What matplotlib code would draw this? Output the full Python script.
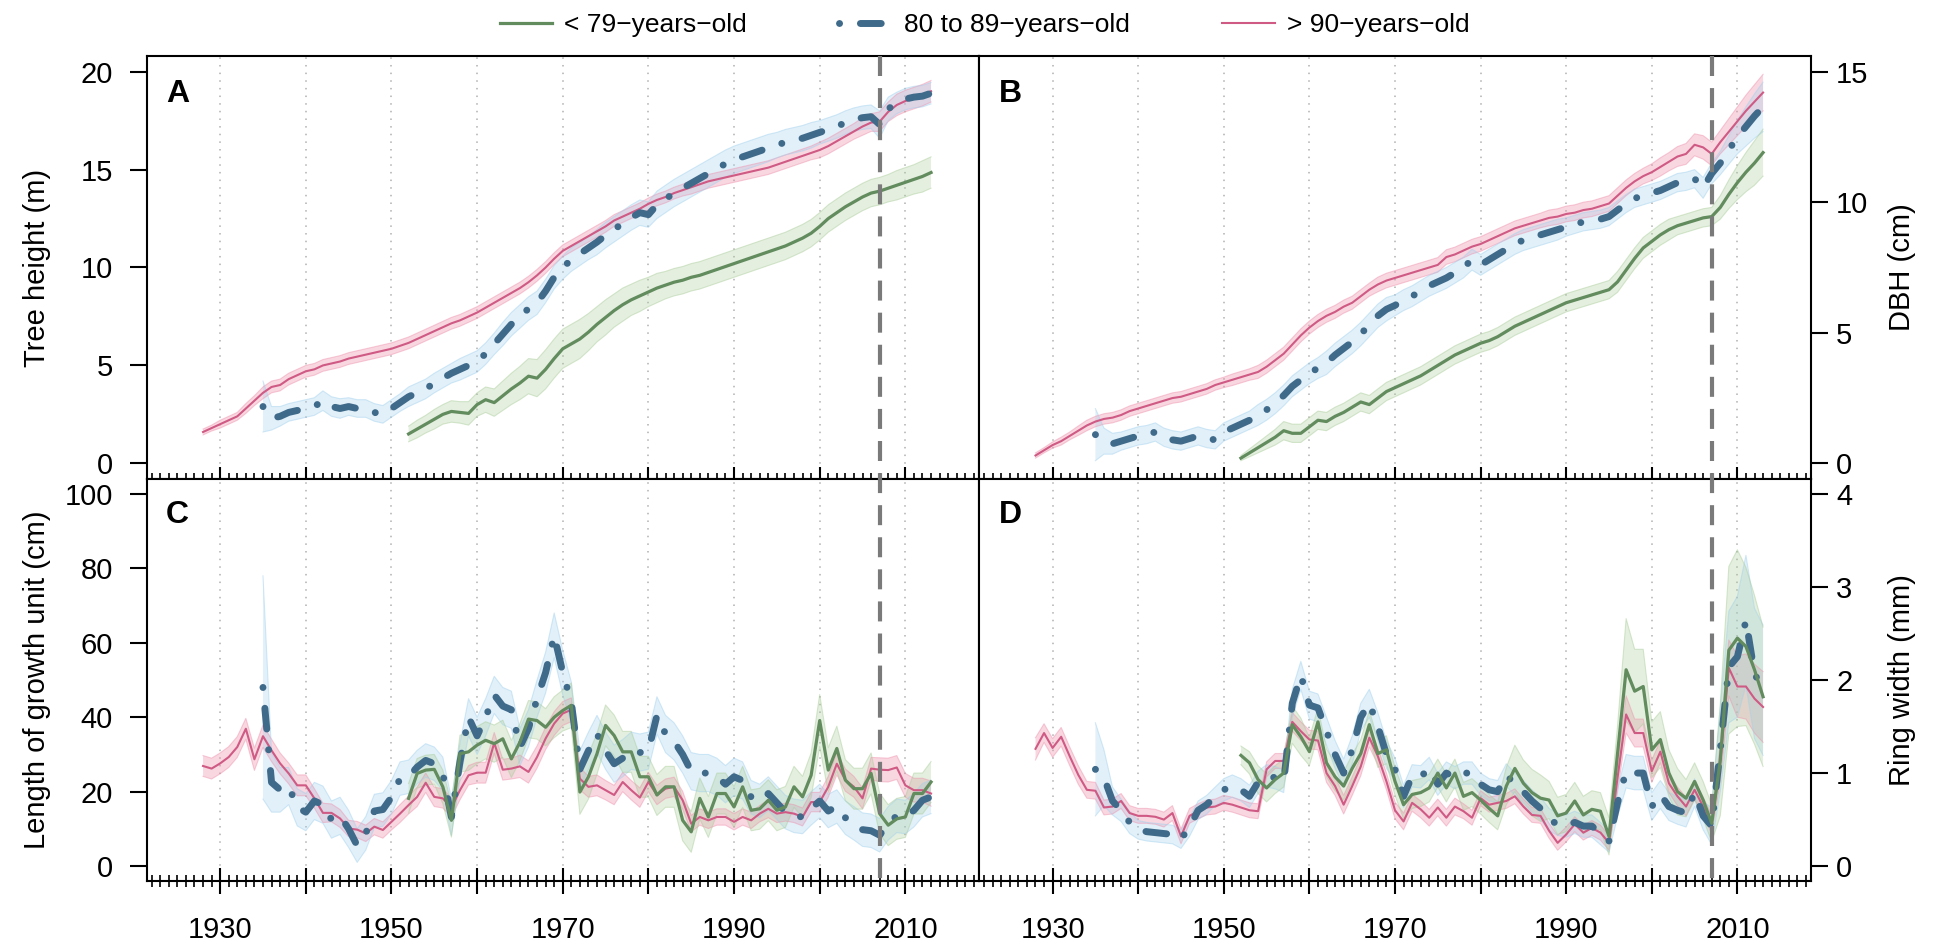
import numpy as np
import matplotlib
matplotlib.use("Agg")
import matplotlib.pyplot as plt
from matplotlib.lines import Line2D
from matplotlib.transforms import blended_transform_factory

plt.rcParams['font.family'] = ['Liberation Sans', 'DejaVu Sans']

# ---------------- data ----------------
start_old = 1928     # > 90-years-old
start_mid = 1935     # 80 to 89-years-old
start_young = 1952   # < 79-years-old
cutoff_year = 2007

legend_labels = ["< 79\u2212years\u2212old", "80 to 89\u2212years\u2212old", "> 90\u2212years\u2212old"]
panel_letters = ["A", "B", "C", "D"]
y_titles = ["Tree height (m)", "DBH (cm)", "Length of growth unit (cm)", "Ring width (mm)"]
x_major = [1930, 1940, 1950, 1960, 1970, 1980, 1990, 2000, 2010]
x_major_labels = ["1930", "", "1950", "", "1970", "", "1990", "", "2010"]
yticks_A = [0, 5, 10, 15, 20]
yticks_B = [0, 5, 10, 15]
yticks_C = [0, 20, 40, 60, 80, 100]
yticks_D = [0, 1, 2, 3, 4]

# Panel A: tree height (m)
pink_A = [1.6, 1.8, 2.0, 2.2, 2.4, 2.8, 3.2, 3.6, 3.9, 4.0,
          4.3, 4.5, 4.7, 4.8, 5.0, 5.1, 5.2, 5.35, 5.45, 5.55,
          5.65, 5.75, 5.85, 6.0, 6.15, 6.35, 6.55, 6.75, 6.95, 7.15,
          7.3, 7.5, 7.7, 7.95, 8.2, 8.45, 8.7, 8.95, 9.25, 9.6,
          10.0, 10.45, 10.85, 11.1, 11.35, 11.6, 11.85, 12.1, 12.4, 12.6,
          12.8, 13.0, 13.25, 13.45, 13.6, 13.8, 13.95, 14.1, 14.25, 14.4,
          14.5, 14.6, 14.7, 14.8, 14.9, 15.0, 15.1, 15.25, 15.4, 15.55,
          15.7, 15.85, 16.0, 16.2, 16.45, 16.7, 16.95, 17.2, 17.4, 17.45,
          17.95, 18.3, 18.5, 18.65, 18.8, 19.0]
pink_A_se = [0.15, 0.15, 0.2, 0.2, 0.2, 0.25, 0.25, 0.3, 0.3, 0.3,
             0.3, 0.3, 0.3, 0.3, 0.3, 0.3, 0.3, 0.3, 0.3, 0.3,
             0.3, 0.3, 0.3, 0.3, 0.3, 0.3, 0.3, 0.3, 0.3, 0.3,
             0.3, 0.3, 0.3, 0.3, 0.3, 0.3, 0.3, 0.3, 0.3, 0.3,
             0.3, 0.3, 0.3, 0.3, 0.3, 0.3, 0.3, 0.3, 0.3, 0.3,
             0.3, 0.3, 0.3, 0.3, 0.3, 0.3, 0.3, 0.35, 0.35, 0.35,
             0.35, 0.35, 0.35, 0.35, 0.35, 0.35, 0.35, 0.35, 0.35, 0.35,
             0.35, 0.35, 0.4, 0.4, 0.4, 0.4, 0.4, 0.45, 0.45, 0.5,
             0.5, 0.55, 0.55, 0.55, 0.55, 0.55]
blue_A = [2.9, 2.3, 2.4, 2.6, 2.7,
          2.8, 2.9, 3.2, 2.9, 2.8, 2.9, 2.8, 2.8, 2.6, 2.5,
          2.8, 3.1, 3.4, 3.6, 3.8, 4.1, 4.35, 4.6, 4.8, 5.0,
          5.2, 5.6, 6.1, 6.6, 7.1, 7.5, 7.9, 8.2, 8.8, 9.5,
          10.0, 10.4, 10.7, 11.0, 11.3, 11.65, 11.95, 12.25, 12.55, 12.8,
          12.7, 13.2, 13.5, 13.8, 14.05, 14.3, 14.55, 14.8, 15.05, 15.3,
          15.5, 15.65, 15.8, 15.95, 16.1, 16.25, 16.4, 16.5, 16.6, 16.75,
          16.9, 17.05, 17.2, 17.4, 17.55, 17.65, 17.7, 17.3, 18.1, 18.4,
          18.6, 18.7, 18.75, 18.9]
blue_A_se = [1.3, 0.6, 0.5, 0.45, 0.45,
             0.45, 0.45, 0.5, 0.5, 0.5, 0.45, 0.45, 0.45, 0.45, 0.45,
             0.45, 0.45, 0.5, 0.5, 0.5, 0.5, 0.5, 0.5, 0.55, 0.55,
             0.55, 0.55, 0.55, 0.6, 0.6, 0.6, 0.6, 0.6, 0.6, 0.6,
             0.6, 0.6, 0.6, 0.6, 0.65, 0.65, 0.65, 0.65, 0.65, 0.65,
             0.65, 0.7, 0.7, 0.7, 0.7, 0.7, 0.7, 0.7, 0.7, 0.7,
             0.7, 0.7, 0.7, 0.7, 0.7, 0.65, 0.65, 0.65, 0.65, 0.65,
             0.6, 0.6, 0.6, 0.6, 0.6, 0.6, 0.6, 0.7, 0.6, 0.55,
             0.55, 0.55, 0.55, 0.55]
green_A = [1.5, 1.75, 2.0, 2.25, 2.5, 2.65, 2.6, 2.55,
           3.0, 3.25, 3.1, 3.45, 3.8, 4.1, 4.45, 4.35, 4.8, 5.35,
           5.85, 6.1, 6.35, 6.7, 7.1, 7.45, 7.8, 8.1, 8.35, 8.55,
           8.75, 8.95, 9.1, 9.25, 9.35, 9.5, 9.6, 9.75, 9.9, 10.05,
           10.2, 10.35, 10.5, 10.65, 10.8, 10.95, 11.1, 11.3, 11.5, 11.75,
           12.1, 12.5, 12.8, 13.1, 13.35, 13.6, 13.8, 13.9, 14.05, 14.2,
           14.35, 14.5, 14.65, 14.85]
green_A_se = [0.4, 0.45, 0.45, 0.5, 0.5, 0.55, 0.55, 0.6,
              0.6, 0.65, 0.7, 0.75, 0.8, 0.85, 0.9, 0.95, 1.0, 1.0,
              1.0, 1.0, 1.0, 0.95, 0.9, 0.9, 0.85, 0.85, 0.8, 0.8,
              0.75, 0.75, 0.7, 0.7, 0.7, 0.7, 0.7, 0.7, 0.7, 0.7,
              0.7, 0.7, 0.7, 0.7, 0.7, 0.7, 0.7, 0.7, 0.7, 0.7,
              0.7, 0.7, 0.7, 0.7, 0.7, 0.7, 0.7, 0.7, 0.7, 0.75,
              0.75, 0.75, 0.8, 0.8]

# Panel B: DBH (cm)
pink_B = [0.3, 0.5, 0.7, 0.85, 1.05, 1.25, 1.45, 1.6, 1.7, 1.75,
          1.85, 2.0, 2.1, 2.2, 2.3, 2.4, 2.5, 2.55, 2.65, 2.75,
          2.85, 3.0, 3.1, 3.2, 3.3, 3.4, 3.5, 3.7, 3.95, 4.2,
          4.55, 4.9, 5.2, 5.45, 5.65, 5.8, 6.0, 6.15, 6.4, 6.65,
          6.85, 7.0, 7.1, 7.2, 7.3, 7.4, 7.5, 7.6, 7.9, 8.0,
          8.15, 8.3, 8.4, 8.55, 8.7, 8.85, 9.0, 9.1, 9.2, 9.3,
          9.4, 9.45, 9.55, 9.6, 9.7, 9.75, 9.85, 9.95, 10.25, 10.55,
          10.8, 11.0, 11.15, 11.35, 11.55, 11.75, 11.85, 12.2, 12.1, 11.85,
          12.3, 12.7, 13.1, 13.5, 13.85, 14.2]
pink_B_se = [0.1, 0.1, 0.12, 0.15, 0.15, 0.18, 0.2, 0.2, 0.2, 0.2,
             0.2, 0.2, 0.2, 0.2, 0.2, 0.2, 0.2, 0.2, 0.2, 0.2,
             0.2, 0.2, 0.2, 0.22, 0.22, 0.22, 0.25, 0.25, 0.25, 0.25,
             0.25, 0.25, 0.25, 0.25, 0.25, 0.25, 0.25, 0.25, 0.25, 0.25,
             0.28, 0.28, 0.28, 0.28, 0.28, 0.28, 0.28, 0.28, 0.28, 0.28,
             0.28, 0.28, 0.28, 0.28, 0.28, 0.28, 0.28, 0.28, 0.28, 0.28,
             0.3, 0.3, 0.3, 0.3, 0.3, 0.3, 0.3, 0.3, 0.3, 0.3,
             0.3, 0.3, 0.32, 0.35, 0.35, 0.38, 0.4, 0.42, 0.45, 0.45,
             0.45, 0.5, 0.55, 0.6, 0.65, 0.7]
blue_B = [1.1, 0.85, 0.75, 0.85, 0.95,
          1.05, 1.1, 1.2, 1.0, 0.9, 0.85, 0.95, 1.05, 0.95, 0.9,
          1.2, 1.35, 1.5, 1.65, 1.85, 2.05, 2.3, 2.6, 2.95, 3.2,
          3.45, 3.65, 3.85, 4.15, 4.4, 4.65, 4.95, 5.3, 5.65, 5.9,
          6.05, 6.25, 6.4, 6.6, 6.8, 6.95, 7.1, 7.3, 7.5, 7.8,
          7.6, 7.8, 8.0, 8.2, 8.4, 8.55, 8.65, 8.75, 8.85, 8.95,
          9.05, 9.15, 9.25, 9.3, 9.35, 9.45, 9.7, 9.95, 10.15, 10.25,
          10.35, 10.45, 10.6, 10.75, 10.8, 10.9, 10.55, 11.1, 11.5, 12.0,
          12.5, 12.9, 13.3, 13.65]
blue_B_se = [1.0, 0.5, 0.4, 0.35, 0.35,
             0.35, 0.35, 0.35, 0.35, 0.35, 0.35, 0.35, 0.35, 0.35, 0.35,
             0.35, 0.35, 0.35, 0.35, 0.4, 0.4, 0.4, 0.4, 0.4, 0.4,
             0.4, 0.4, 0.45, 0.45, 0.45, 0.45, 0.45, 0.45, 0.45, 0.45,
             0.4, 0.4, 0.4, 0.4, 0.4, 0.4, 0.4, 0.4, 0.4, 0.4,
             0.4, 0.4, 0.4, 0.4, 0.4, 0.4, 0.4, 0.4, 0.4, 0.4,
             0.35, 0.35, 0.35, 0.35, 0.35, 0.35, 0.35, 0.35, 0.35, 0.35,
             0.35, 0.35, 0.35, 0.35, 0.35, 0.35, 0.4, 0.4, 0.45, 0.55,
             0.65, 0.75, 0.85, 0.95]
green_B = [0.2, 0.4, 0.6, 0.8, 1.0, 1.25, 1.15, 1.15,
           1.4, 1.65, 1.6, 1.8, 1.95, 2.15, 2.35, 2.25, 2.5, 2.75,
           2.9, 3.05, 3.2, 3.35, 3.55, 3.75, 3.95, 4.15, 4.3, 4.45,
           4.6, 4.7, 4.85, 5.05, 5.25, 5.4, 5.55, 5.7, 5.85, 6.0,
           6.15, 6.25, 6.35, 6.45, 6.55, 6.65, 6.95, 7.4, 7.85, 8.25,
           8.5, 8.75, 8.95, 9.1, 9.2, 9.3, 9.4, 9.45, 9.8, 10.3,
           10.75, 11.15, 11.5, 11.9]
green_B_se = [0.1, 0.15, 0.2, 0.25, 0.3, 0.35, 0.35, 0.35,
              0.35, 0.35, 0.35, 0.35, 0.35, 0.35, 0.35, 0.35, 0.35, 0.35,
              0.35, 0.35, 0.35, 0.35, 0.35, 0.35, 0.35, 0.35, 0.35, 0.35,
              0.35, 0.35, 0.35, 0.35, 0.35, 0.35, 0.35, 0.35, 0.35, 0.35,
              0.35, 0.35, 0.35, 0.35, 0.35, 0.35, 0.4, 0.4, 0.4, 0.4,
              0.4, 0.4, 0.4, 0.35, 0.35, 0.35, 0.35, 0.35, 0.45, 0.55,
              0.65, 0.75, 0.85, 0.9]

# Panel C: length of growth unit (cm)
pink_C = [26.9, 26.2, 27.6, 29.3, 32.0, 36.9, 28.7, 34.9, 31.1, 27.6,
          24.9, 21.7, 21.7, 18.2, 14.3, 14.3, 12.8, 10.1, 9.8, 8.8,
          10.6, 9.7, 11.9, 14.1, 16.4, 18.6, 22.4, 18.6, 18.2, 15.7,
          20.4, 24.4, 25.1, 25.1, 33.1, 25.9, 26.2, 26.8, 25.3, 29.3,
          34.3, 38.3, 41.0, 42.0, 23.5, 21.3, 21.7, 20.4, 19.1, 22.6,
          20.4, 18.4, 22.6, 19.1, 20.8, 21.3, 17.7, 11.4, 13.2, 12.3,
          13.2, 13.2, 11.9, 13.2, 12.3, 14.1, 15.4, 14.1, 14.5, 14.1,
          13.2, 17.2, 17.2, 21.3, 27.5, 23.1, 21.3, 18.2, 26.2, 25.9,
          25.8, 26.5, 21.7, 20.4, 20.4, 19.5]
pink_C_se = [2.8, 2.8, 2.8, 2.8, 2.8, 2.8, 3.0, 3.0, 3.0, 2.8,
             2.8, 2.8, 2.8, 2.6, 2.6, 2.4, 2.4, 2.2, 2.2, 2.2,
             2.2, 2.2, 2.2, 2.4, 2.4, 2.6, 2.6, 2.6, 2.6, 2.6,
             2.6, 2.6, 2.8, 2.8, 2.8, 2.8, 2.8, 3.0, 3.0, 3.0,
             3.0, 3.2, 3.2, 3.2, 3.0, 2.8, 2.8, 2.6, 2.6, 2.6,
             2.6, 2.6, 2.6, 2.6, 2.6, 2.6, 2.4, 2.2, 2.2, 2.2,
             2.2, 2.2, 2.2, 2.2, 2.2, 2.2, 2.4, 2.4, 2.4, 2.4,
             2.4, 2.6, 2.6, 2.8, 3.0, 3.0, 2.8, 2.8, 3.0, 3.2,
             3.2, 3.2, 3.2, 3.2, 3.2, 3.4]
blue_C = [48.0, 22.5, 20.5, 21.5, 15.8,
          14.5, 17.5, 16.5, 12.5, 13.5, 10.0, 5.5, 8.8, 14.8, 15.2,
          18.5, 23.5, 24.0, 26.6, 28.4, 27.5, 24.8, 13.2, 28.0, 40.0,
          35.0, 40.0, 46.0, 43.0, 42.0, 32.0, 37.0, 45.0, 52.0, 62.0,
          52.0, 44.0, 26.0, 31.0, 35.5, 31.0, 27.5, 29.0, 31.0, 30.5,
          31.0, 40.5, 35.5, 33.5, 30.0, 25.5, 25.0, 25.0, 24.0, 22.0,
          24.0, 23.0, 18.5, 17.5, 19.5, 17.0, 14.5, 13.5, 13.2, 15.5,
          17.5, 14.8, 16.0, 13.0, 11.5, 9.8, 9.5, 8.3, 11.5, 13.5,
          13.2, 15.0, 17.7, 18.6]
blue_C_se = [30.0, 8.0, 6.0, 5.0, 5.0,
             5.0, 5.0, 5.0, 5.0, 5.0, 5.0, 4.5, 4.5, 4.5, 4.5,
             4.5, 4.5, 4.5, 4.5, 4.5, 4.5, 4.5, 5.0, 5.0, 5.0,
             5.0, 5.0, 5.0, 5.0, 5.0, 5.0, 5.0, 5.0, 5.5, 6.0,
             6.0, 5.5, 5.0, 5.0, 5.0, 5.0, 5.0, 5.0, 5.0, 5.0,
             5.0, 5.0, 5.0, 5.0, 5.0, 5.0, 5.0, 5.0, 5.0, 5.0,
             5.0, 5.0, 4.5, 4.5, 4.5, 4.5, 4.5, 4.5, 4.5, 4.5,
             4.5, 4.5, 4.5, 4.5, 4.5, 4.5, 4.5, 4.5, 4.5, 4.5,
             4.5, 4.5, 4.5, 4.5]
green_C = [18.2, 24.9, 25.8, 26.0, 21.3, 12.3, 30.2, 30.7,
           32.5, 33.8, 32.9, 34.2, 28.8, 33.3, 39.5, 39.1, 37.3, 40.0,
           41.8, 43.2, 19.9, 24.0, 30.2, 37.8, 35.1, 30.7, 30.7, 24.0,
           24.0, 19.1, 21.3, 21.3, 12.3, 9.2, 18.2, 13.2, 19.5, 19.5,
           15.9, 21.3, 15.0, 15.4, 17.7, 15.0, 15.9, 21.3, 18.6, 24.4,
           39.1, 25.8, 31.6, 23.1, 20.8, 20.8, 24.9, 14.1, 11.0, 12.7,
           13.2, 19.5, 19.5, 22.6]
green_C_se = [4.0, 4.0, 4.0, 4.0, 4.5, 4.5, 5.0, 5.0,
              5.0, 5.0, 5.0, 5.0, 5.0, 5.0, 5.0, 5.0, 5.0, 5.5,
              5.5, 6.0, 6.0, 6.0, 5.5, 5.5, 5.5, 5.5, 5.5, 5.5,
              5.5, 5.5, 5.5, 5.5, 5.5, 5.5, 5.5, 5.5, 5.5, 5.5,
              5.5, 5.5, 5.5, 5.5, 5.5, 5.5, 5.5, 5.5, 5.5, 6.0,
              7.0, 6.0, 6.0, 5.5, 5.5, 5.5, 5.5, 5.5, 5.5, 5.5,
              5.5, 5.5, 5.5, 5.5]

# Panel D: ring width (mm)
pink_D = [1.26, 1.43, 1.27, 1.39, 1.18, 0.98, 0.82, 0.81, 0.63, 0.64,
          0.70, 0.57, 0.54, 0.54, 0.53, 0.50, 0.57, 0.32, 0.54, 0.59,
          0.63, 0.64, 0.68, 0.66, 0.63, 0.60, 0.59, 1.04, 1.13, 1.13,
          1.55, 1.45, 1.36, 1.35, 1.00, 0.86, 0.66, 0.86, 1.07, 1.38,
          1.18, 0.91, 0.60, 0.48, 0.68, 0.61, 0.52, 0.63, 0.52, 0.64,
          0.59, 0.52, 0.73, 0.66, 0.68, 0.70, 0.75, 0.64, 0.55, 0.54,
          0.38, 0.25, 0.34, 0.45, 0.36, 0.41, 0.36, 0.25, 0.95, 1.63,
          1.43, 1.43, 1.02, 1.23, 0.89, 0.75, 0.64, 0.82, 0.64, 0.45,
          1.11, 2.13, 1.93, 1.93, 1.80, 1.71]
pink_D_se = [0.12, 0.1, 0.1, 0.1, 0.1, 0.1, 0.09, 0.09, 0.08, 0.08,
             0.08, 0.08, 0.08, 0.08, 0.08, 0.08, 0.08, 0.08, 0.08, 0.08,
             0.08, 0.08, 0.08, 0.08, 0.08, 0.08, 0.08, 0.08, 0.08, 0.08,
             0.1, 0.1, 0.1, 0.1, 0.1, 0.1, 0.1, 0.1, 0.1, 0.1,
             0.09, 0.09, 0.09, 0.09, 0.09, 0.09, 0.09, 0.09, 0.09, 0.09,
             0.08, 0.08, 0.08, 0.08, 0.08, 0.08, 0.08, 0.08, 0.08, 0.08,
             0.08, 0.08, 0.08, 0.08, 0.08, 0.08, 0.08, 0.08, 0.15, 0.2,
             0.15, 0.15, 0.12, 0.12, 0.1, 0.1, 0.1, 0.1, 0.1, 0.1,
             0.2, 0.3, 0.33, 0.35, 0.37, 0.38]
blue_D = [1.04, 0.95, 0.70, 0.60, 0.47,
          0.39, 0.37, 0.36, 0.35, 0.34, 0.29, 0.42, 0.60, 0.66, 0.75,
          0.82, 0.86, 0.82, 0.75, 0.90, 0.97, 0.95, 0.91, 1.75, 2.05,
          1.73, 1.70, 1.45, 1.20, 1.00, 1.25, 1.60, 1.75, 1.50, 1.20,
          1.04, 0.75, 0.97, 0.96, 1.05, 0.88, 1.00, 0.95, 1.00, 1.00,
          0.88, 0.82, 0.80, 0.98, 0.88, 0.80, 0.70, 0.62, 0.50, 0.45,
          0.43, 0.47, 0.43, 0.43, 0.35, 0.27, 0.68, 1.02, 1.00, 1.00,
          0.64, 0.77, 0.64, 0.60, 0.57, 0.79, 0.54, 0.43, 1.25, 2.14,
          2.25, 2.64, 2.07, 1.89]
blue_D_se = [0.5, 0.3, 0.15, 0.12, 0.12,
             0.1, 0.1, 0.1, 0.1, 0.1, 0.1, 0.1, 0.1, 0.1, 0.1,
             0.12, 0.12, 0.12, 0.12, 0.12, 0.12, 0.12, 0.12, 0.15, 0.15,
             0.15, 0.15, 0.15, 0.15, 0.15, 0.15, 0.15, 0.15, 0.15, 0.15,
             0.12, 0.12, 0.12, 0.12, 0.12, 0.12, 0.12, 0.12, 0.12, 0.12,
             0.12, 0.12, 0.12, 0.12, 0.12, 0.12, 0.12, 0.12, 0.12, 0.12,
             0.12, 0.12, 0.12, 0.12, 0.12, 0.12, 0.15, 0.18, 0.18, 0.18,
             0.15, 0.15, 0.15, 0.15, 0.15, 0.15, 0.15, 0.2, 0.45, 0.6,
             0.65, 0.7, 0.7, 0.7]
green_D = [1.19, 1.11, 0.93, 0.84, 0.93, 1.00, 1.52, 1.39,
           1.23, 1.55, 1.11, 0.96, 0.86, 1.05, 1.21, 1.52, 1.21, 1.25,
           0.91, 0.66, 0.77, 0.79, 0.84, 1.00, 0.84, 1.00, 0.75, 0.79,
           0.71, 0.62, 0.54, 0.86, 1.05, 0.89, 0.79, 0.73, 0.71, 0.54,
           0.57, 0.70, 0.55, 0.61, 0.59, 0.32, 1.21, 2.11, 1.88, 1.93,
           1.25, 1.36, 1.00, 0.80, 0.73, 0.91, 0.71, 0.46, 1.14, 2.32,
           2.45, 2.36, 2.11, 1.82]
green_D_se = [0.1, 0.12, 0.15, 0.15, 0.15, 0.15, 0.2, 0.2,
              0.15, 0.15, 0.15, 0.15, 0.15, 0.15, 0.15, 0.15, 0.15, 0.15,
              0.15, 0.15, 0.15, 0.15, 0.15, 0.15, 0.15, 0.15, 0.15, 0.15,
              0.15, 0.15, 0.15, 0.2, 0.25, 0.25, 0.25, 0.25, 0.2, 0.2,
              0.2, 0.2, 0.2, 0.2, 0.2, 0.2, 0.3, 0.55, 0.45, 0.4,
              0.3, 0.3, 0.25, 0.25, 0.2, 0.2, 0.2, 0.2, 0.6, 0.9,
              0.95, 0.85, 0.8, 0.75]

# ---------------- style ----------------
W, H = 1948, 946
XL, XM, XR = 146.5, 979, 1811
YT, YM, YB = 56, 479, 881
XLIM = (1921.4, 2018.6)

GREEN, BLUE, PINK = '#628b5e', '#3f6a8a', '#cf5a84'
GREEN_F, BLUE_F, PINK_F = '#a8cc98', '#9fd0ee', '#ee8fab'
BLUE_LS = (0, (0.01, 3.0, 3.0, 3.0))
FS = 21

fig = plt.figure(figsize=(W / 100, H / 100), dpi=100)


def rect(l, t, r, b):
    return [l / W, 1 - b / H, (r - l) / W, (b - t) / H]


axA = fig.add_axes(rect(XL, YT, XM, YM))
axB = fig.add_axes(rect(XM, YT, XR, YM))
axC = fig.add_axes(rect(XL, YM, XM, YB))
axD = fig.add_axes(rect(XM, YM, XR, YB))
axes = [axA, axB, axC, axD]

panels = [
    (axA, (-0.8, 20.8), yticks_A,
     [(pink_A, pink_A_se), (blue_A, blue_A_se), (green_A, green_A_se)]),
    (axB, (-0.6, 15.6), yticks_B,
     [(pink_B, pink_B_se), (blue_B, blue_B_se), (green_B, green_B_se)]),
    (axC, (-4, 104), yticks_C,
     [(pink_C, pink_C_se), (blue_C, blue_C_se), (green_C, green_C_se)]),
    (axD, (-0.16, 4.16), yticks_D,
     [(pink_D, pink_D_se), (blue_D, blue_D_se), (green_D, green_D_se)]),
]
starts = [start_old, start_mid, start_young]
line_cols = [PINK, BLUE, GREEN]
fill_cols = [PINK_F, BLUE_F, GREEN_F]
fill_alpha = [0.35, 0.3, 0.3]
line_kw = [dict(lw=1.5, ls='-'),
           dict(lw=5.0, ls=BLUE_LS, dash_capstyle='round'),
           dict(lw=2.3, ls='-')]

for i, (ax, ylim, yt, series) in enumerate(panels):
    ax.set_xlim(*XLIM)
    ax.set_ylim(*ylim)
    for yr in x_major:
        ax.axvline(yr, color='#b0b0b0', lw=1.1, ls=(0, (1, 4)), zorder=0.5)
    for k, (vals, se) in enumerate(series):
        yrs = np.arange(starts[k], starts[k] + len(vals))
        v = np.asarray(vals, float)
        s = np.asarray(se, float)
        ax.fill_between(yrs, v - s, v + s, facecolor=fill_cols[k], alpha=fill_alpha[k],
                        edgecolor='none', zorder=1)
        ax.plot(yrs, v - s, color=fill_cols[k], alpha=0.45, lw=0.8, zorder=1.1)
        ax.plot(yrs, v + s, color=fill_cols[k], alpha=0.45, lw=0.8, zorder=1.1)
    for k, (vals, se) in enumerate(series):
        yrs = np.arange(starts[k], starts[k] + len(vals))
        ax.plot(yrs, vals, color=line_cols[k], zorder=2 + k,
                solid_joinstyle='round', **line_kw[k])

    for sp in ax.spines.values():
        sp.set_linewidth(1.5)
    ax.set_xticks(x_major)
    ax.set_xticks(list(range(1922, 2019)), minor=True)
    ax.set_yticks(yt)
    ax.set_yticklabels([str(t) for t in yt])
    bottom = i >= 2
    ax.tick_params(axis='x', which='major', direction='inout', top=False,
                   length=19.4 if bottom else 18, width=1.5,
                   labelbottom=bottom, labelsize=FS, pad=15.5)
    ax.tick_params(axis='x', which='minor', direction='inout', top=False,
                   length=8.6 if bottom else 8, width=1.2)
    if bottom:
        ax.set_xticklabels(x_major_labels)
    right = i % 2 == 1
    if right:
        ax.yaxis.tick_right()
        ax.tick_params(axis='y', which='major', direction='out', length=12,
                       width=1.5, labelsize=FS, pad=6, left=False, right=True)
    else:
        ax.tick_params(axis='y', which='major', direction='out', length=12,
                       width=1.5, labelsize=FS, pad=12.3)
    ax.text(0.0234, 0.891, panel_letters[i], transform=ax.transAxes,
            fontsize=23, fontweight='bold', ha='left', va='baseline', zorder=10)

# y-axis titles
fig.text(37 / W, 1 - (YT + YM) / 2 / H, y_titles[0], rotation=90, ha='center', va='center', fontsize=FS)
fig.text(1902 / W, 1 - (YT + YM) / 2 / H, y_titles[1], rotation=90, ha='center', va='center', fontsize=FS)
fig.text(37 / W, 1 - (YM + YB) / 2 / H, y_titles[2], rotation=90, ha='center', va='center', fontsize=FS)
fig.text(1902 / W, 1 - (YM + YB) / 2 / H, y_titles[3], rotation=90, ha='center', va='center', fontsize=FS)

# cutoff dashed line across both rows
for ax_top in (axA, axB):
    tr = blended_transform_factory(ax_top.transData, fig.transFigure)
    fig.add_artist(Line2D([cutoff_year, cutoff_year], [1 - YT / H, 1 - YB / H], transform=tr,
                          color='#7a7a7a', lw=3, ls=(0, (4.8, 2.9)), zorder=5))

# legend
handles = [Line2D([], [], color=GREEN, lw=2.3),
           Line2D([], [], color=BLUE, lw=5.0, ls=BLUE_LS, dash_capstyle='round'),
           Line2D([], [], color=PINK, lw=1.5)]
fig.legend(handles, legend_labels, loc='center', bbox_to_anchor=(984.5 / W, 1 - 25 / H),
           ncol=3, frameon=False, fontsize=19, handlelength=2.0, handletextpad=0.45,
           columnspacing=3.5, borderaxespad=0, borderpad=0)

fig.savefig('out.png', dpi=100)
